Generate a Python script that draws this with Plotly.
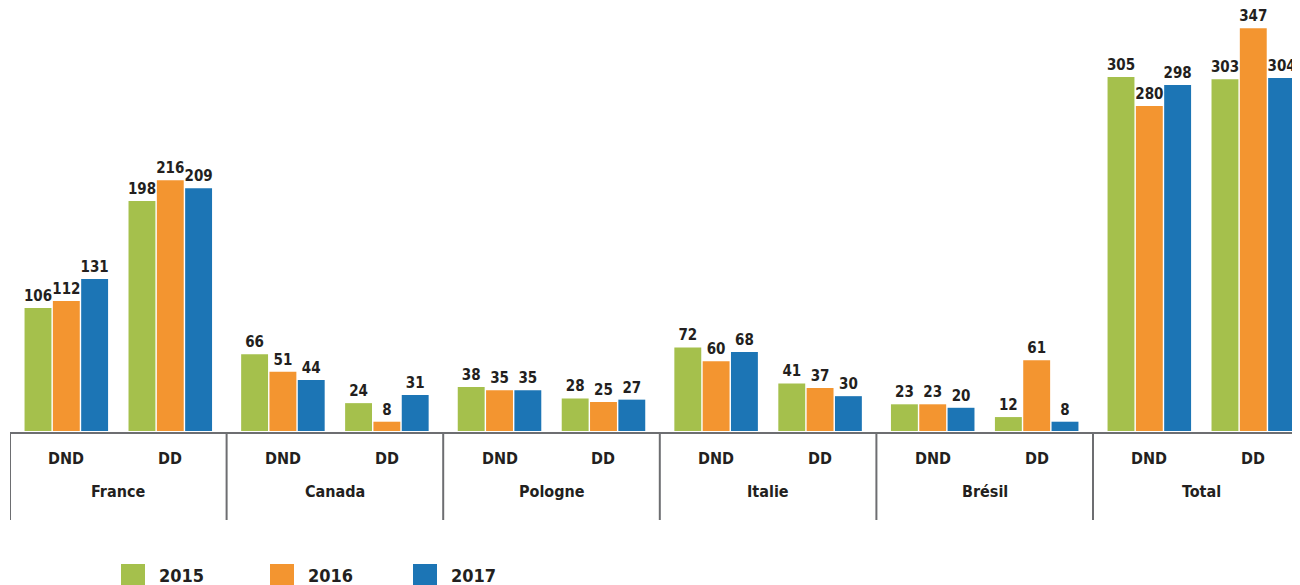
import plotly.graph_objects as go

countries = ["France", "Canada", "Pologne", "Italie", "Brésil", "Total"]
subcats = ["DND", "DD"]
years = ["2015", "2016", "2017"]
colors = ["#a5c04c", "#f39530", "#1c75b5"]

v2015 = [106, 198, 66, 24, 38, 28, 72, 41, 23, 12, 305, 303]
v2016 = [112, 216, 51, 8, 35, 25, 60, 37, 23, 61, 280, 347]
v2017 = [131, 209, 44, 31, 35, 27, 68, 30, 20, 8, 298, 304]
series = [v2015, v2016, v2017]

FONT = "DejaVu Sans Condensed, DejaVu Sans, sans-serif"
TXT = "#231f20"
LINE = "#6d6e71"

# page body adds an 8px offset; convert reference pixels to figure pixels
OFF = 8
W, H = 1300, 585
ref_left, ref_right, ref_base, ref_top = 10, 1308, 431, 20
ml = ref_left - OFF
mr = W - (ref_right - OFF)
mb = H - (ref_base - OFF)
mt = ref_top - OFF
pw, ph = W - ml - mr, H - mt - mb
unit = 216.6  # pixels per country
xmax = pw / unit

def py(ref_y):
    return (ref_base - ref_y) / ph

def pxr(ref_x):
    return (ref_x - ref_left) / pw

sub_off = [0.26, 0.74]
xs = [j + sub_off[k] for j in range(len(countries)) for k in range(len(subcats))]
n = len(xs)

fig = go.Figure()
for yr, vals, col in zip(years, series, colors):
    fig.add_trace(go.Bar(
        x=xs, y=vals, name=yr, marker=dict(color=col, line=dict(width=0)),
        text=[str(v) for v in vals], textposition="outside",
        constraintext="none",
        textfont=dict(family=FONT, size=15, color=TXT, weight="bold"),
        cliponaxis=False, showlegend=False,
    ))

shapes = []
annotations = []
line_end = xs[-1] + 43 / unit
shapes.append(dict(type="line", xref="x", yref="paper", x0=0, x1=line_end,
                   y0=py(433), y1=py(433), line=dict(color=LINE, width=2)))
for i in range(len(countries)):
    shapes.append(dict(type="line", xref="x", yref="paper", x0=i, x1=i,
                       y0=py(433), y1=py(520), line=dict(color=LINE, width=2)))
for i in range(n):
    annotations.append(dict(x=xs[i], y=py(459), xref="x", yref="paper",
                            xanchor="center", yanchor="middle",
                            text=subcats[i % 2], showarrow=False,
                            font=dict(family=FONT, size=16, color=TXT, weight="bold")))
for j, c in enumerate(countries):
    annotations.append(dict(x=j + 0.5, y=py(492), xref="x", yref="paper",
                            xanchor="center", yanchor="middle",
                            text=c, showarrow=False,
                            font=dict(family=FONT, size=16, color=TXT, weight="bold")))
leg_x = [121, 270, 413]
for yr, col, lx in zip(years, colors, leg_x):
    shapes.append(dict(type="rect", xref="paper", yref="paper",
                       x0=pxr(lx), x1=pxr(lx + 24),
                       y0=py(564), y1=py(592),
                       fillcolor=col, line=dict(width=0)))
    annotations.append(dict(x=pxr(lx + 36), y=py(575), xref="paper", yref="paper",
                            xanchor="left", yanchor="middle", text=yr, showarrow=False,
                            font=dict(family=FONT, size=18, color=TXT, weight="bold")))

fig.update_layout(
    width=W, height=H,
    margin=dict(l=ml, r=mr, t=mt, b=mb, pad=0),
    paper_bgcolor="white", plot_bgcolor="white",
    barmode="group", bargap=0.183, bargroupgap=0.05,
    xaxis=dict(range=[0, xmax], showticklabels=False, showgrid=False,
               zeroline=False, showline=False, ticks=""),
    yaxis=dict(range=[0, 354], visible=False),
    shapes=shapes, annotations=annotations,
    showlegend=False,
)

fig.write_html("out.html")
